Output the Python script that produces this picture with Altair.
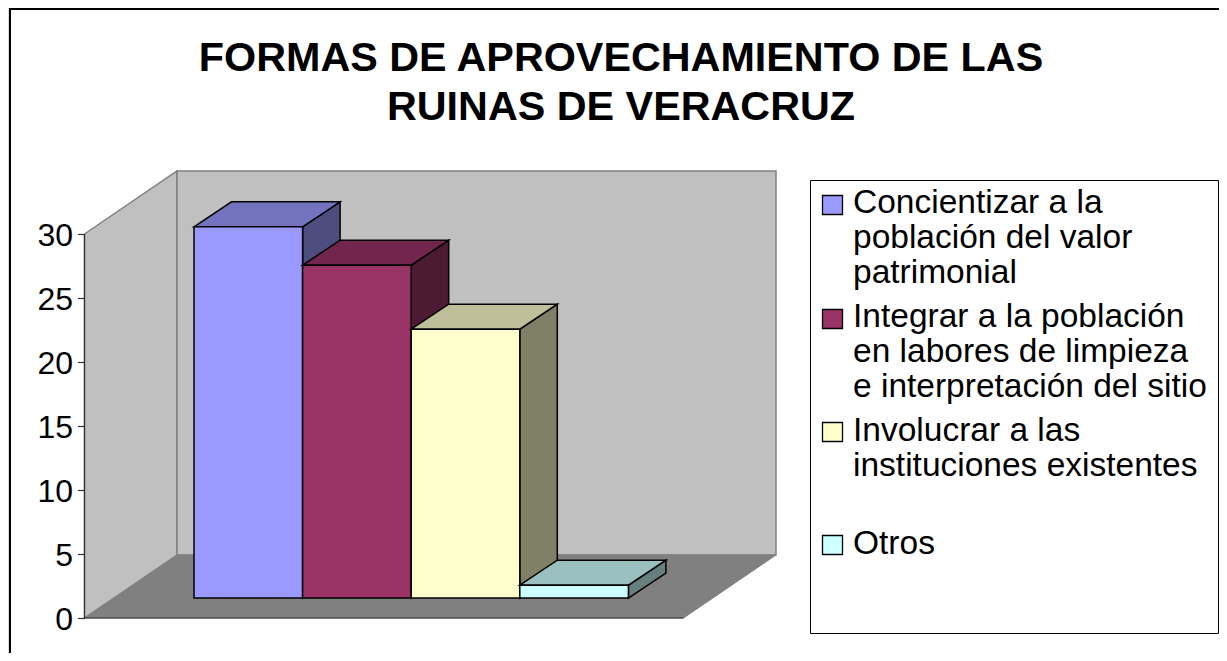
import altair as alt
import pandas as pd

# ---- chart values ----
categories = ["Concientizar a la población del valor patrimonial",
              "Integrar a la población en labores de limpieza e interpretación del sitio",
              "Involucrar a las instituciones existentes",
              "Otros"]
values = [29, 26, 21, 1]
front_colors = ["#9999FF", "#993366", "#FFFFCC", "#CCFFFF"]
top_colors = ["#7373BF", "#73264D", "#BFBF99", "#99BFBF"]
side_colors = ["#4D4D80", "#4D1A33", "#808066", "#668080"]
y_ticks = [0, 5, 10, 15, 20, 25, 30]
title_lines = ["FORMAS DE APROVECHAMIENTO DE LAS", "RUINAS DE VERACRUZ"]
legend_lines = [
    ["Concientizar a la", "población del valor", "patrimonial"],
    ["Integrar a la población", "en labores de limpieza", "e interpretación del sitio"],
    ["Involucrar a las", "instituciones existentes"],
    ["Otros"],
]

W, H = 1211, 645
PX_PER_UNIT = 12.8
ZERO_PAGE_Y = 618.0
TOP_VALUE = (ZERO_PAGE_Y - 8) / PX_PER_UNIT
BOTTOM_VALUE = (ZERO_PAGE_Y - 8 - H) / PX_PER_UNIT

xs = alt.Scale(domain=[8, 8 + W], range=[0, W], nice=False, zero=False)
ys = alt.Scale(domain=[BOTTOM_VALUE, TOP_VALUE], range=[H, 0], nice=False, zero=False)
X = lambda f="x": alt.X(f"{f}:Q", scale=xs, axis=None)
Y = lambda f="y": alt.Y(f"{f}:Q", scale=ys, axis=None)


def face(rows, fill, stroke, sw):
    df = pd.DataFrame(rows, columns=["x", "y", "y2"])
    return alt.Chart(df).mark_area(
        fill=fill, stroke=stroke, strokeWidth=sw, orient="vertical", opacity=1
    ).encode(x=X(), y=alt.Y("y:Q", scale=ys, axis=None, stack=None), y2="y2:Q")


# walls (depth: 93 px back, 63 px up)
WALL_L, WALL_DX, FLOOR_W = 84.5, 92.5, 599
wall_dv = 63 / PX_PER_UNIT
axis_max = 30
left_wall = face([(WALL_L, axis_max, 0), (WALL_L + WALL_DX, axis_max + wall_dv, wall_dv)],
                 "#C0C0C0", "#808080", 1.5)
back_wall = face([(WALL_L + WALL_DX, axis_max + wall_dv, wall_dv),
                  (WALL_L + WALL_DX + FLOOR_W, axis_max + wall_dv, wall_dv)],
                 "#C0C0C0", "#808080", 1.5)
floor = face([(WALL_L, 0, 0), (WALL_L + WALL_DX, wall_dv, 0),
              (WALL_L + FLOOR_W, wall_dv, 0), (WALL_L + WALL_DX + FLOOR_W, wall_dv, wall_dv)],
             "#808080", "#808080", 1)

floor_edge = alt.Chart(pd.DataFrame({"x": [WALL_L], "x2": [WALL_L + FLOOR_W], "y": [0]})).mark_rule(
    color="#333333", strokeWidth=1.2).encode(x=X(), x2="x2:Q", y=Y())
axis_line = alt.Chart(pd.DataFrame({"x": [WALL_L], "y": [0], "y2": [axis_max]})).mark_rule(
    color="#333333", strokeWidth=1.2).encode(x=X(), y=Y(), y2="y2:Q")
axis_layer = alt.Chart(pd.DataFrame({"v": y_ticks})).mark_point(opacity=0).encode(
    y=alt.Y("v:Q", scale=ys, axis=alt.Axis(
        values=y_ticks, orient="left", offset=-(WALL_L - 8), title=None, grid=False, domain=False,
        tickSize=7, tickWidth=1.2, tickColor="#333333", labelFontSize=32, labelFont="Liberation Sans",
        labelColor="black", labelPadding=5, labelFlush=False, labelOffset=1, format="d", zindex=1)))

# bars
BAR_L, BAR_W = 194.0, 108.6
BAR_DX, BAR_DV = 37.5, 25 / PX_PER_UNIT
BASE = 20 / PX_PER_UNIT
bar_layers = []
for i, v in enumerate(values):
    a, b, t = BAR_L + i * BAR_W, BAR_L + (i + 1) * BAR_W, BASE + v
    side = face([(b, t, BASE), (b + BAR_DX, t + BAR_DV, BASE + BAR_DV)], side_colors[i], "black", 1.5)
    top = face([(a, t, t), (a + BAR_DX, t + BAR_DV, t), (b, t + BAR_DV, t), (b + BAR_DX, t + BAR_DV, t + BAR_DV)],
               top_colors[i], "black", 1.5)
    front = alt.Chart(pd.DataFrame({"x": [a], "x2": [b], "y": [BASE], "y2": [t], "c": [categories[i]]})).mark_rect(
        fill=front_colors[i], stroke="black", strokeWidth=1.5).encode(x=X(), x2="x2:Q", y=Y(), y2="y2:Q",
                                                                      tooltip="c:N")
    bar_layers += [side, top, front]

# frame and legend
frame = alt.Chart(pd.DataFrame({"a": [0]})).mark_rect(filled=False, stroke="black", strokeWidth=2).encode(
    x=alt.value(2), x2=alt.value(W + 20), y=alt.value(1), y2=alt.value(H + 20))
legend_box = alt.Chart(pd.DataFrame({"a": [0]})).mark_rect(fill="white", stroke="black", strokeWidth=1).encode(
    x=alt.value(802.5), x2=alt.value(1210.5), y=alt.value(172.5), y2=alt.value(625.5))

swatch_tops = [187, 301, 414, 527]
baselines = [[205, 240, 275], [319, 354, 389], [433, 468], [546]]
legend_layers = []
for i, lines in enumerate(legend_lines):
    legend_layers.append(alt.Chart(pd.DataFrame({"a": [0]})).mark_rect(
        fill=front_colors[i], stroke="black", strokeWidth=1.3).encode(
        x=alt.value(814.5), x2=alt.value(834.5), y=alt.value(swatch_tops[i] + 0.5), y2=alt.value(swatch_tops[i] + 19.5)))
    for line, base in zip(lines, baselines[i]):
        legend_layers.append(alt.Chart(pd.DataFrame({"t": [line]})).mark_text(
            font="Liberation Sans", fontSize=33.5, align="left", baseline="alphabetic", color="black").encode(
            text="t:N", x=alt.value(845), y=alt.value(base)))

chart = alt.layer(frame, left_wall, back_wall, floor, floor_edge, axis_line, axis_layer,
                  *bar_layers, legend_box, *legend_layers).resolve_axis(y="independent").properties(
    width=W, height=H, padding=0, autosize=alt.AutoSizeParams(type="none"),
    title=alt.TitleParams(text=title_lines, font="Liberation Sans", fontSize=41.3, fontWeight="bold", color="black",
                          anchor="middle", dx=7.5, dy=153.5, lineHeight=49.5, baseline="alphabetic", offset=0),
).configure_view(stroke=None).configure(background="white")

chart.save("out.html", embed_options={"renderer": "svg", "actions": False})
